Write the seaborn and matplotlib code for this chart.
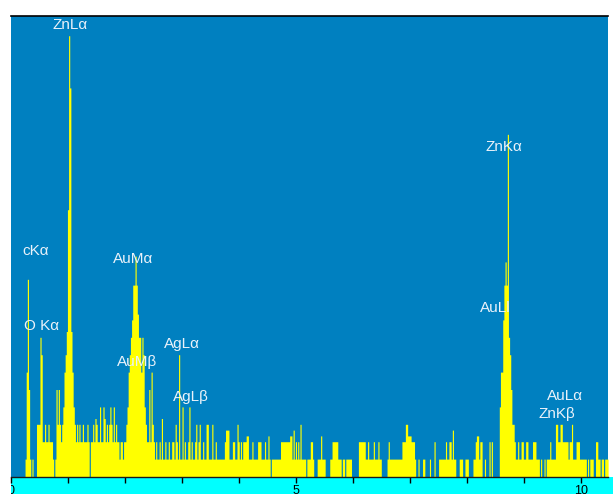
import numpy as np
import pandas as pd
import matplotlib
matplotlib.use("Agg")
import matplotlib.pyplot as plt
import seaborn as sns

# counts per channel, one list per 50 channels
kev0 = [0, 0, 0, 0, 0, 0, 0, 0, 0, 0, 0, 0, 3, 18, 34, 15, 3, 0, 3, 0,
        0, 0, 9, 9, 9, 24, 21, 6, 6, 9, 6, 6, 9, 6, 6, 6, 3, 0, 3, 15,
        9, 15, 9, 6, 9, 12, 18, 21, 25, 46]
kev1 = [76, 67, 25, 18, 12, 9, 6, 9, 6, 9, 6, 6, 9, 6, 6, 6, 9, 6, 0, 6,
        6, 9, 6, 10, 9, 6, 6, 12, 6, 6, 12, 10, 6, 9, 6, 9, 12, 9, 6, 12,
        6, 9, 6, 6, 3, 6, 6, 3, 6, 6]
kev2 = [9, 12, 18, 21, 24, 27, 33, 33, 38, 33, 28, 24, 24, 18, 24, 21, 12, 9, 6, 6,
        15, 6, 18, 9, 6, 3, 6, 3, 3, 6, 3, 10, 3, 3, 6, 3, 3, 6, 3, 3,
        6, 6, 3, 9, 6, 3, 21, 3, 3, 12]
kev3 = [3, 6, 3, 3, 6, 12, 3, 6, 3, 3, 6, 9, 3, 6, 9, 3, 3, 6, 3, 3,
        9, 9, 3, 3, 3, 9, 3, 3, 6, 3, 3, 3, 3, 3, 3, 3, 6, 8, 8, 8,
        3, 3, 3, 6, 6, 3, 3, 9, 6, 3]
kev4 = [6, 3, 6, 6, 6, 7, 7, 3, 3, 3, 6, 3, 3, 3, 3, 6, 6, 6, 3, 3,
        3, 6, 3, 3, 7, 3, 0, 3, 3, 3, 3, 3, 3, 3, 3, 6, 6, 6, 6, 6,
        6, 6, 6, 7, 7, 3, 8, 3, 6, 3]
kev5 = [6, 3, 9, 3, 3, 3, 3, 0, 3, 3, 3, 6, 6, 3, 0, 0, 0, 3, 3, 3,
        7, 3, 3, 3, 0, 0, 0, 0, 3, 3, 6, 6, 6, 6, 6, 3, 3, 3, 0, 3,
        3, 0, 3, 3, 3, 3, 3, 0, 0, 0]
kev6 = [0, 0, 0, 6, 6, 6, 6, 6, 6, 3, 3, 6, 3, 3, 3, 3, 6, 3, 3, 3,
        6, 3, 3, 0, 0, 0, 0, 0, 3, 6, 3, 3, 3, 3, 3, 3, 3, 3, 3, 3,
        3, 6, 6, 6, 9, 9, 7, 7, 7, 6]
kev7 = [6, 6, 3, 0, 0, 3, 0, 0, 0, 3, 3, 0, 0, 0, 0, 3, 0, 0, 0, 6,
        0, 0, 0, 3, 3, 3, 3, 3, 3, 6, 3, 3, 6, 6, 3, 8, 3, 3, 0, 0,
        0, 3, 3, 3, 0, 0, 3, 3, 3, 0]
kev8 = [0, 0, 0, 3, 3, 6, 7, 7, 3, 6, 6, 0, 0, 3, 0, 0, 0, 6, 0, 6,
        0, 0, 0, 0, 0, 0, 12, 18, 18, 27, 33, 37, 33, 59, 24, 21, 15, 9, 9, 6,
        3, 3, 6, 3, 3, 6, 6, 3, 3, 6]
kev9 = [6, 3, 3, 3, 3, 6, 6, 6, 3, 3, 3, 0, 3, 0, 0, 3, 0, 3, 3, 3,
        6, 3, 3, 3, 3, 9, 9, 6, 6, 9, 9, 6, 6, 6, 6, 6, 3, 6, 6, 9,
        3, 3, 3, 6, 6, 6, 3, 3, 3, 3]
kev10 = [3, 3, 0, 3, 0, 3, 3, 3, 0, 0, 6, 6, 3, 3, 0, 3, 3, 0, 3, 3, 3]

counts = kev0 + kev1 + kev2 + kev3 + kev4 + kev5 + kev6 + kev7 + kev8 + kev9 + kev10
chan_kev = 0.0201  # channel width in keV
spec = pd.DataFrame({
    "energy": (np.arange(len(counts)) + 0.5) * chan_kev,
    "counts": counts,
})

# peak labels
line_names = ["ZnLα", "cKα", "O Kα", "AuMα", "AuMβ", "AgLα", "AgLβ",
              "ZnKα", "AuLl", "AuLα", "ZnKβ"]
label_kev = [1.03, 0.43, 0.53, 2.14, 2.20, 3.00, 3.15, 8.64, 8.49, 9.71, 9.57]
label_cnt = [77.8, 38.9, 25.9, 37.5, 19.7, 22.8, 13.7, 56.8, 29.0, 13.9, 10.8]

tick_labels = [0, 5, 10]

xmax = 10.47
ymax = 79.4

fig = plt.figure(figsize=(6.13, 4.94), dpi=100)
left, bottom = 11.3 / 613, 17.5 / 494
width, height = 596.7 / 613, 460.5 / 494

# cyan strip under the spectrum with the keV numbers (runs to the right edge)
bax = fig.add_axes([left, 0, 1 - left, bottom])
bax.set_facecolor("#00FFFF")
bax.set_xlim(0, xmax * (1 - left) / width)
bax.set_ylim(0, 1)
bax.set_xticks([])
bax.set_yticks([])
for s in bax.spines.values():
    s.set_visible(False)
for v in tick_labels:
    bax.text(v, 0.5, str(v), ha="center", va="top", fontsize=9,
             color="black", clip_on=True,
             family=["Liberation Sans Narrow", "Liberation Sans", "DejaVu Sans"])

# spectrum
ax = fig.add_axes([left, bottom, width, height])
ax.set_facecolor("#0080C0")
sns.histplot(data=spec, x="energy", weights="counts", binwidth=chan_kev,
             binrange=(0, len(counts) * chan_kev), element="step", fill=True,
             color="#FFFF00", alpha=1, linewidth=0, ax=ax)
ax.set_xlim(0, xmax)
ax.set_ylim(0, ymax)
ax.set_xticks(range(0, 11))
ax.set_xticklabels([])
ax.tick_params(axis="x", direction="out", length=4.3, width=1, color="black")
ax.set_yticks([])
ax.set_xlabel("")
ax.set_ylabel("")
ax.spines["left"].set_visible(False)
ax.spines["right"].set_visible(False)
ax.spines["top"].set_color("black")
ax.spines["top"].set_linewidth(1.2)
ax.spines["bottom"].set_color("#1a1a1a")
ax.spines["bottom"].set_linewidth(1)

for name, e, c in zip(line_names, label_kev, label_cnt):
    ax.text(e, c, name, ha="center", va="center", fontsize=11,
            color="#EAF2FA", family=["Liberation Sans", "DejaVu Sans"])

fig.savefig("out.png", dpi=100, facecolor="white")
